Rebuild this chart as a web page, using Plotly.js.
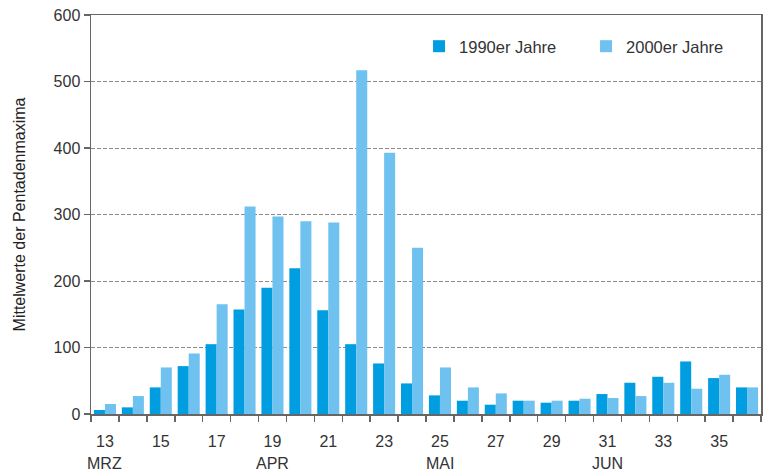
<!DOCTYPE html>
<html>
<head>
<meta charset="utf-8">
<script src="https://cdn.plot.ly/plotly-3.0.1.min.js"></script>
<style>html,body{margin:0;padding:0;background:#fff;}#chart{width:766px;height:474px;}</style>
</head>
<body>
<div id="chart"></div>
<script>
const pentades = [13,14,15,16,17,18,19,20,21,22,23,24,25,26,27,28,29,30,31,32,33,34,35,36];
const values1990 = [6,10,40,72,105,157,190,219,156,105,76,46,28,20,14,20,17,20,30,47,56,79,54,40];
const values2000 = [15,27,70,91,165,312,297,290,288,517,393,250,70,40,31,20,20,23,24,27,47,38,59,40];
const tickValues = [13,15,17,19,21,23,25,27,29,31,33,35];
const tickLabels = ["13","15","17","19","21","23","25","27","29","31","33","35"];
const monthLabels = ["MRZ","APR","MAI","JUN"];
const monthPentades = [13,19,25,31];
const series1 = "1990er Jahre";
const series2 = "2000er Jahre";
const yTitle = "Mittelwerte der Pentadenmaxima";

const fam = '"Liberation Sans", Arial, sans-serif';
const data = [
  {type:'bar', x:pentades, y:values1990, name:series1, marker:{color:'#009ee0'}},
  {type:'bar', x:pentades, y:values2000, name:series2, marker:{color:'#6fc2ef'}}
];
const annotations = monthLabels.map((m,i)=>({
  text:m, x:monthPentades[i], xref:'x', y:0, yref:'paper', yshift:-49,
  showarrow:false, xanchor:'center', yanchor:'middle',
  font:{family:fam, size:16, color:'#333'}
}));
const layout = {
  width:766, height:474,
  margin:{l:91, r:5, t:15, b:60, autoexpand:false},
  paper_bgcolor:'#fff', plot_bgcolor:'#fff',
  font:{family:fam, size:16, color:'#333'},
  barmode:'group', bargap:0.21, bargroupgap:0,
  showlegend:true,
  legend:{orientation:'h', x:0.4896, y:0.965, xanchor:'left', yanchor:'top',
          font:{family:fam, size:16.5, color:'#333'},
          entrywidth:122, entrywidthmode:'pixels', bgcolor:'rgba(0,0,0,0)'},
  annotations:annotations,
  xaxis:{
    range:[12.5,36.5], tickvals:tickValues, ticktext:tickLabels,
    ticks:'', showgrid:false, zeroline:false, ticklabelstandoff:12,
    showline:true, linecolor:'#666', linewidth:1.5, mirror:true,
    tickfont:{family:fam, size:16, color:'#333'},
    minor:{tick0:12.5, dtick:1, ticks:'outside', ticklen:6, tickcolor:'#666', tickwidth:1.5, showgrid:false}
  },
  yaxis:{
    range:[0,600], dtick:100, ticks:'outside', ticklen:6, tickcolor:'#666', tickwidth:1.5,
    showline:true, linecolor:'#666', linewidth:1.5, mirror:true,
    showgrid:true, gridcolor:'#8a8a8a', gridwidth:1, griddash:'4px,2px', zeroline:false,
    tickfont:{family:fam, size:16, color:'#333'},
    title:{text:yTitle, font:{family:fam, size:16, color:'#222'}, standoff:24}
  }
};
Plotly.newPlot('chart', data, layout, {displayModeBar:false, staticPlot:true});
</script>
</body>
</html>
